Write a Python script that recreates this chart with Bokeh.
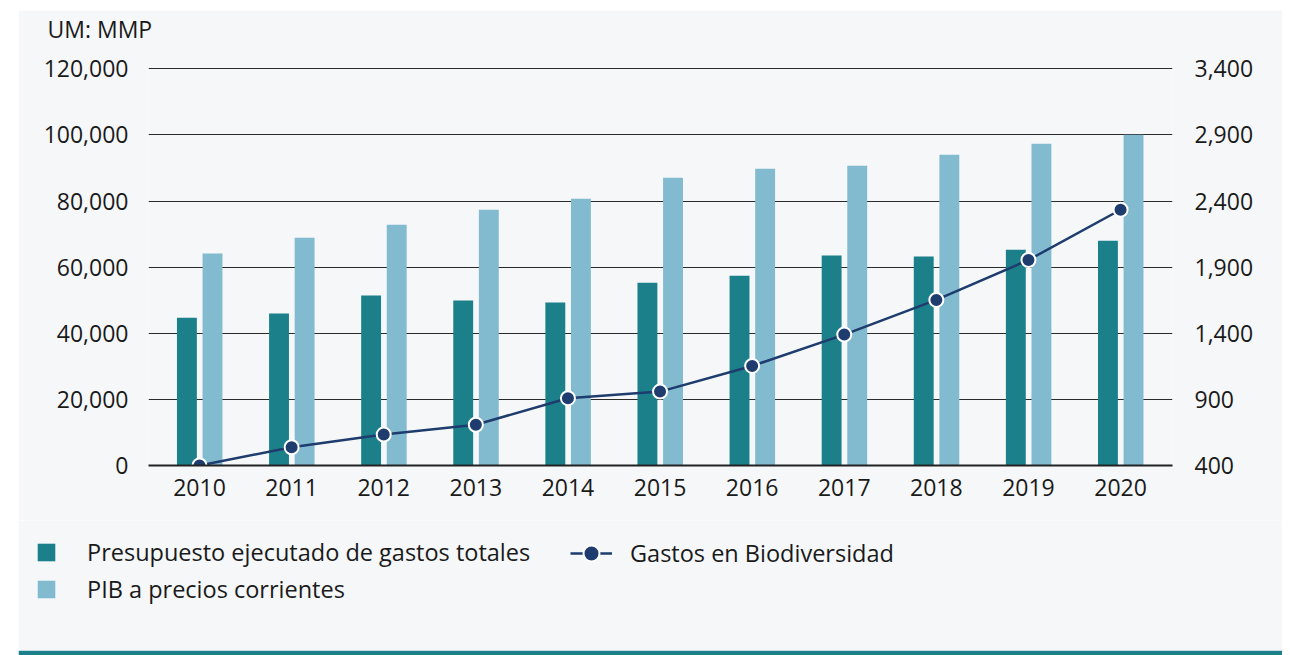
from bokeh.plotting import figure
from bokeh.models import (ColumnDataSource, Range1d, LinearAxis, FixedTicker,
                          NumeralTickFormatter, Legend, LegendItem, Spacer, Title)
from bokeh.layouts import row, column
from bokeh.transform import dodge
from bokeh.embed import file_html
from bokeh.resources import INLINE

# ---- data ----
years = [2010, 2011, 2012, 2013, 2014, 2015, 2016, 2017, 2018, 2019, 2020]
presupuesto = [44700, 45950, 51400, 49900, 49300, 55300, 57400, 63500, 63200, 65300, 68000]
pib = [64100, 68900, 72850, 77400, 80700, 87050, 89770, 90700, 94000, 97300, 100050]
biodiversidad = [400, 538, 634, 708, 909, 959, 1153, 1390, 1652, 1954, 2334]
left_ticks = [0, 20000, 40000, 60000, 80000, 100000, 120000]
right_ticks = [400, 900, 1400, 1900, 2400, 2900, 3400]
unit_label = "UM: MMP"
label_presupuesto = "Presupuesto ejecutado de gastos totales"
label_pib = "PIB a precios corrientes"
label_bio = "Gastos en Biodiversidad"

# ---- style ----
BG = "#f5f7f9"
DARK = "#1c808a"
LIGHT = "#82bbd0"
NAVY = "#1e3c6e"
TXT = "#1a1a1a"
FONT = "Open Sans"
FS = "23px"
LFS = "23.5px"

src = ColumnDataSource(dict(x=years, pres=presupuesto, pib=pib, bio=biodiversidad))

p = figure(width=1264, height=510,
           x_range=Range1d(2009.446, 2020.564), y_range=Range1d(0, 120400),
           output_backend="svg", toolbar_location=None,
           min_border_left=130, min_border_right=110,
           min_border_top=57, min_border_bottom=55,
           background_fill_color=BG, border_fill_color=BG,
           outline_line_color=None)
p.extra_y_ranges = {"bio": Range1d(400, 3410)}

b1 = p.vbar(x=dodge("x", -0.137, range=p.x_range), top="pres", width=0.216,
            source=src, fill_color=DARK, line_color=None)
b2 = p.vbar(x=dodge("x", 0.141, range=p.x_range), top="pib", width=0.216,
            source=src, fill_color=LIGHT, line_color=None)
ln = p.line(x="x", y="bio", y_range_name="bio", source=src,
            line_color=NAVY, line_width=2.5)
sc = p.scatter(x="x", y="bio", y_range_name="bio", source=src, size=14,
               fill_color=NAVY, line_color="white", line_width=2)

def style_axis(ax, standoff):
    ax.axis_line_color = None
    ax.major_tick_line_color = None
    ax.minor_tick_line_color = None
    ax.major_label_text_font = FONT
    ax.major_label_text_font_size = FS
    ax.major_label_text_color = TXT
    ax.major_label_standoff = standoff

yl = p.yaxis[0]
yl.ticker = FixedTicker(ticks=left_ticks)
yl.formatter = NumeralTickFormatter(format="0,0")
style_axis(yl, 14)

yr = LinearAxis(y_range_name="bio", ticker=FixedTicker(ticks=right_ticks),
                formatter=NumeralTickFormatter(format="0,0"))
style_axis(yr, 16)
p.add_layout(yr, "right")

xa = p.xaxis[0]
xa.ticker = FixedTicker(ticks=years)
style_axis(xa, 7)
xa.axis_line_color = "#222222"
xa.axis_line_width = 2

p.xgrid.grid_line_color = None
p.ygrid.ticker = FixedTicker(ticks=left_ticks)
p.ygrid.grid_line_color = "#2a2a2a"
p.ygrid.grid_line_width = 1.2

# title (outermost) + spacer title between it and the frame
p.add_layout(Title(text=" ", text_font_size="1px", standoff=20), "above")
p.title.text = unit_label
p.title.align = "left"
p.title.offset = -101
p.title.standoff = 0
p.title.text_font = FONT
p.title.text_font_size = FS
p.title.text_font_style = "normal"
p.title.text_color = TXT

# ---- legend strip (its renderers use the same data, outside its view);
#      its 5px bottom border is the teal rule ----
q = figure(width=1264, height=135, x_range=Range1d(0, 1), y_range=Range1d(0, 1),
           output_backend="svg", toolbar_location=None,
           x_axis_location=None, y_axis_location=None,
           min_border_left=0, min_border_right=0, min_border_top=0,
           min_border_bottom=5,
           background_fill_color=BG, border_fill_color=DARK,
           outline_line_color=None)
q.grid.visible = False
e1 = q.vbar(x="x", top="pres", width=0.2, source=src, fill_color=DARK, line_color=None)
e2 = q.vbar(x="x", top="pib", width=0.2, source=src, fill_color=LIGHT, line_color=None)
e3 = q.line(x="x", y="bio", source=src, line_color=NAVY, line_width=2.5)
e4 = q.scatter(x="x", y="bio", source=src, size=14, fill_color=NAVY,
               line_color="white", line_width=2)

legA = Legend(items=[LegendItem(label=label_presupuesto, renderers=[e1]),
                     LegendItem(label=label_pib, renderers=[e2])],
              location=(17, 45), orientation="vertical",
              glyph_width=22, glyph_height=22, label_standoff=30, spacing=5,
              padding=0, margin=0, border_line_color=None,
              background_fill_alpha=0,
              label_text_font=FONT, label_text_font_size=LFS, label_text_color=TXT)
legB = Legend(items=[LegendItem(label=label_bio, renderers=[e3, e4])],
              location=(552, 77), orientation="vertical",
              glyph_width=42, glyph_height=40, label_standoff=18,
              padding=0, margin=0, border_line_color=None,
              background_fill_alpha=0,
              label_text_font=FONT, label_text_font_size=LFS, label_text_color=TXT)
q.add_layout(legA, "center")
q.add_layout(legB, "center")

layout = column(Spacer(height=10),
                row(Spacer(width=18), p),
                row(Spacer(width=18), q))

open("out.html", "w").write(file_html(layout, INLINE))
